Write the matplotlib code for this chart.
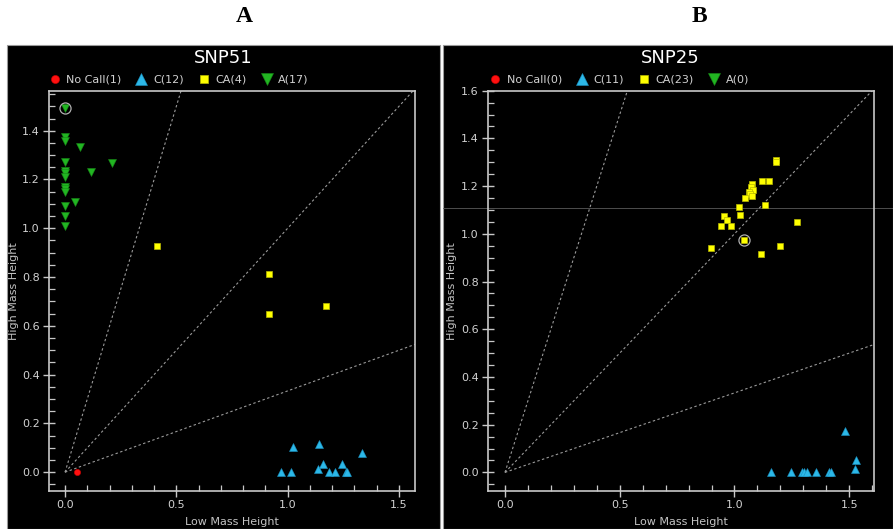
import numpy as np
import matplotlib
matplotlib.use("Agg")
import matplotlib.pyplot as plt
from matplotlib.patches import Rectangle
from matplotlib.ticker import MultipleLocator, FormatStrFormatter

# ---------------- data ----------------
# Panel A : SNP51
a_nocall_x = [0.052]
a_nocall_y = [0.001]
a_c_x = [0.972, 1.014, 1.023, 1.142, 1.136, 1.160, 1.187, 1.213, 1.243, 1.260, 1.268, 1.333]
a_c_y = [0.000, 0.000, 0.105, 0.117, 0.014, 0.033, 0.000, 0.000, 0.035, 0.000, 0.000, 0.079]
a_ca_x = [0.411, 0.918, 0.915, 1.170]
a_ca_y = [0.929, 0.813, 0.649, 0.680]
a_a_x = [0, 0, 0, 0.066, 0, 0.210, 0, 0.115, 0, 0, 0, 0, 0, 0.043, 0, 0, 0]
a_a_y = [1.495, 1.375, 1.358, 1.334, 1.270, 1.268, 1.235, 1.229, 1.225, 1.212,
         1.171, 1.160, 1.150, 1.109, 1.093, 1.050, 1.011]
a_sel = (0.0, 1.495)
a_labels = ["No Call(1)", "C(12)", "CA(4)", "A(17)"]

# Panel B : SNP25
b_nocall_x, b_nocall_y = [], []
b_c_x = [1.159, 1.246, 1.296, 1.301, 1.318, 1.355, 1.413, 1.420, 1.483, 1.529, 1.527]
b_c_y = [0, 0, 0, 0, 0, 0, 0, 0, 0.173, 0.050, 0.014]
b_ca_x = [1.180, 1.182, 1.118, 1.150, 1.075, 1.071, 1.079, 1.063, 1.068, 1.076,
          1.046, 1.133, 1.018, 1.022, 0.953, 0.966, 0.940, 0.983, 1.272, 1.041,
          0.898, 1.197, 1.115]
b_ca_y = [1.310, 1.300, 1.223, 1.223, 1.209, 1.195, 1.185, 1.174, 1.165, 1.159,
          1.150, 1.121, 1.112, 1.081, 1.074, 1.057, 1.031, 1.031, 1.049, 0.974,
          0.941, 0.949, 0.914]
b_a_x, b_a_y = [], []
b_sel = (1.041, 0.974)
b_labels = ["No Call(0)", "C(11)", "CA(23)", "A(0)"]
b_hline = 1.107

ref_slopes = [3.0, 1.0, 1.0 / 3.0]

# ---------------- figure ----------------
W, H = 893, 529
fig = plt.figure(figsize=(W / 100, H / 100), dpi=100, facecolor="white")

def fx(px):
    return px / W

def fy(py):
    return (H - py) / H

# black panel backgrounds
for x0, x1 in [(7, 440), (443, 893)]:
    fig.patches.append(Rectangle((fx(x0), 0), fx(x1 - x0), fy(45), transform=fig.transFigure,
                                 facecolor="black", edgecolor="#9a9a9a", linewidth=0.8, zorder=-5))

FRAME = "#c8c8c8"
TXT = "#d2d2d2"

def panel(rect, xlim, ylim, yticks_max, nc, c, ca, a, sel, labels, title, title_x, ylab_x, legx):
    ax = fig.add_axes(rect)
    ax.set_zorder(2)
    ax.set_facecolor("black")
    ax.set_xlim(*xlim)
    ax.set_ylim(*ylim)
    for s in ax.spines.values():
        s.set_color(FRAME)
        s.set_linewidth(1.2)
    ax.xaxis.set_major_locator(MultipleLocator(0.5))
    ax.xaxis.set_minor_locator(MultipleLocator(0.1))
    ax.set_yticks(np.round(np.arange(0, yticks_max + 0.001, 0.2), 1))
    ax.yaxis.set_minor_locator(MultipleLocator(0.05))
    ax.xaxis.set_major_formatter(FormatStrFormatter("%.1f"))
    ax.yaxis.set_major_formatter(FormatStrFormatter("%.1f"))
    ax.tick_params(which="major", direction="inout", length=8.5, width=1.0, color=FRAME,
                   labelcolor=TXT, labelsize=8, pad=2.5)
    ax.tick_params(which="minor", direction="in", length=4.2, width=0.9, color=FRAME)
    ax.tick_params(top=False, right=False, which="both")

    xs = np.array([0.0, 3.0])
    for k in ref_slopes:
        ax.plot(xs, k * xs, color="#9a9a9a", lw=0.8, ls=(0, (2.2, 2.2)), zorder=1)

    h_nc, = ax.plot(nc[0], nc[1], ls="none", marker="o", ms=4.5, mfc="#ff1010", mec="#cc0000", mew=0.4, zorder=3)
    h_c, = ax.plot(c[0], c[1], ls="none", marker="^", ms=6.4, mfc="#2cb8e8", mec="#1a90c0", mew=0.4, zorder=3)
    h_ca, = ax.plot(ca[0], ca[1], ls="none", marker="s", ms=4.5, mfc="#ffff00", mec="#b8b800", mew=0.5, zorder=3)
    h_a, = ax.plot(a[0], a[1], ls="none", marker="v", ms=6.4, mfc="#22b522", mec="#168a16", mew=0.4, zorder=3)
    ax.plot([sel[0]], [sel[1]], ls="none", marker="o", ms=8, mfc="none", mec="#b0b0b0", mew=0.9, zorder=4)

    ax.legend([h_nc, h_c, h_ca, h_a], labels, ncol=4, loc="center left",
              bbox_to_anchor=(legx, 1.027), frameon=False, fontsize=8, markerscale=1.3,
              handlelength=1.0, handletextpad=0.55, columnspacing=1.3,
              borderpad=0, borderaxespad=0, labelcolor=TXT)

    ax.set_xlabel("Low Mass Height", color="#c4c4c4", fontsize=8)
    ax.xaxis.set_label_coords(0.5, -0.0775)
    ax.xaxis.label.set_verticalalignment("center")
    ax.set_ylabel("High Mass Height", color="#c4c4c4", fontsize=8)
    ax.yaxis.set_label_coords(ylab_x, 0.5)
    ax.yaxis.label.set_verticalalignment("center")

    fig.text(title_x, fy(58), title, color="white", fontsize=13, ha="center", va="center", zorder=3)
    return ax

axA = panel([fx(49), fy(491), fx(366), (491 - 90.7) / H], (-0.072, 1.572), (-0.077, 1.564), 1.4,
            (a_nocall_x, a_nocall_y), (a_c_x, a_c_y), (a_ca_x, a_ca_y), (a_a_x, a_a_y), a_sel,
            a_labels, "SNP51", fx(223), -0.0956, 0.0)

axB = panel([fx(488), fy(491), fx(386), (491 - 90.7) / H], (-0.074, 1.608), (-0.078, 1.6), 1.6,
            (b_nocall_x, b_nocall_y), (b_c_x, b_c_y), (b_ca_x, b_ca_y), (b_a_x, b_a_y), b_sel,
            b_labels, "SNP25", fx(670), -0.093, 0.004)

# thin crosshair line across panel B
axB.axhline(b_hline, xmin=(443 - 488) / 386, xmax=(893 - 488) / 386, color="#5a5a5a",
            lw=0.6, clip_on=False, zorder=0.5)

# panel letters
fig.text(fx(244), fy(17), "A", fontsize=17, fontweight="bold", family=["Liberation Serif", "DejaVu Serif"],
         ha="center", va="center", color="black")
fig.text(fx(699), fy(16), "B", fontsize=17, fontweight="bold", family=["Liberation Serif", "DejaVu Serif"],
         ha="center", va="center", color="black")

fig.savefig("out.png", dpi=100, facecolor="white")
